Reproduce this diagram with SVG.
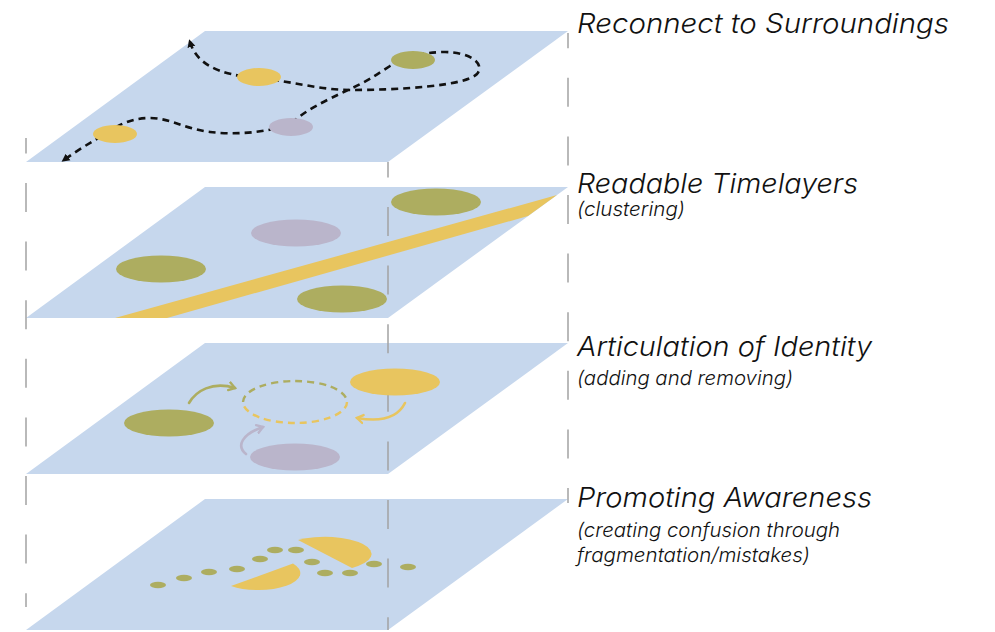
<svg xmlns="http://www.w3.org/2000/svg" width="995" height="632" viewBox="0 0 995 632">
<style>
.plane{fill:#c6d7ed}
.vl{stroke:#a3a3a3;stroke-width:1.5;stroke-dasharray:29 29.6;fill:none}
.y{fill:#e8c55f}.o{fill:#adad60}.l{fill:#bab5cb}
.route{fill:none;stroke:#111;stroke-width:2.6;stroke-dasharray:7 5}
.arr{fill:none;stroke-width:2.6;stroke-linecap:round}
.t{font-family:Inter,"Liberation Sans",sans-serif;font-style:italic;font-weight:300;fill:#111}
.h{font-size:27px}.s{font-size:20px}
</style>
<defs>
<marker id="tri" markerUnits="userSpaceOnUse" markerWidth="10" markerHeight="10" refX="5" refY="4" orient="auto-start-reverse" viewBox="0 0 10 8"><path d="M0,0 L8,4 L0,8 z" fill="#111"/></marker>
<marker id="ho" markerUnits="userSpaceOnUse" markerWidth="12" markerHeight="12" refX="7" refY="5" orient="auto" viewBox="0 0 12 10"><path d="M1,1 L7,5 L1,9" fill="none" stroke="#adad60" stroke-width="2.4" stroke-linecap="round"/></marker>
<marker id="hy" markerUnits="userSpaceOnUse" markerWidth="12" markerHeight="12" refX="7" refY="5" orient="auto" viewBox="0 0 12 10"><path d="M1,1 L7,5 L1,9" fill="none" stroke="#e8c55f" stroke-width="2.4" stroke-linecap="round"/></marker>
<marker id="hl" markerUnits="userSpaceOnUse" markerWidth="12" markerHeight="12" refX="7" refY="5" orient="auto" viewBox="0 0 12 10"><path d="M1,1 L7,5 L1,9" fill="none" stroke="#bab5cb" stroke-width="2.4" stroke-linecap="round"/></marker>
</defs>

<g id="planes">
<polygon class="plane" points="205,31 568,31 388,162 26,162"/>
<polygon class="plane" points="205,187 568,187 388,318 26,318"/>
<polygon class="plane" points="205,343 568,343 388,474 26,474"/>
<polygon class="plane" points="205,499 568,499 388,630 26,630"/>
</g>

<g id="guides">
<line class="vl" x1="26" y1="138" x2="26" y2="607" stroke-dashoffset="13.6"/>
<line class="vl" x1="388" y1="162" x2="388" y2="630" stroke-dashoffset="13.6"/>
<line class="vl" x1="568" y1="33" x2="568" y2="503" stroke-dashoffset="13.8"/>
</g>

<g id="connectors">
<path class="route" marker-start="url(#tri)" marker-end="url(#tri)" d="M 190,42 C 196,62 215,75 259,78 C 290,81 320,90 350,90 C 400,90 465,86 477,74 C 486,63 468,52 445,52 C 420,52 400,60 390,66 C 375,76 362,84 348,90 C 325,101 305,110 291,124 C 265,133 235,135 210,132 C 185,129 170,118 150,118 C 125,118 112,130 100,137 C 88,144 75,152 64,160"/>
<path class="arr" stroke="#adad60" marker-end="url(#ho)" d="M 189,403 C 196,391 212,381 235,388"/>
<path class="arr" stroke="#e8c55f" marker-end="url(#hy)" d="M 405,403 C 399,415 385,423 357,418"/>
<path class="arr" stroke="#bab5cb" marker-end="url(#hl)" d="M 246,454 C 236,446 242,434 263,427"/>
</g>

<g id="layer-surroundings">
<ellipse class="y" cx="259" cy="77" rx="22" ry="9"/>
<ellipse class="o" cx="413" cy="60" rx="22" ry="9"/>
<ellipse class="y" cx="115" cy="134" rx="22" ry="9"/>
<ellipse class="l" cx="291" cy="127" rx="22" ry="9"/>
<text class="t h" x="577" y="33" textLength="372" lengthAdjust="spacingAndGlyphs">Reconnect to Surroundings</text>
</g>

<g id="layer-timelayers">
<polygon class="y" points="115,318 167,318 528,216 557,195"/>
<ellipse class="o" cx="436" cy="202" rx="45" ry="13.5"/>
<ellipse class="l" cx="296" cy="233" rx="45" ry="13.5"/>
<ellipse class="o" cx="161" cy="269" rx="45" ry="13.5"/>
<ellipse class="o" cx="342" cy="299" rx="45" ry="13.5"/>
<text class="t h" x="577" y="193" textLength="281" lengthAdjust="spacingAndGlyphs">Readable Timelayers</text>
<text class="t s" x="577" y="216" textLength="108" lengthAdjust="spacingAndGlyphs">(clustering)</text>
</g>

<g id="layer-identity">
<ellipse class="y" cx="395" cy="382" rx="45" ry="13.5"/>
<ellipse class="o" cx="169" cy="423" rx="45" ry="13.5"/>
<ellipse class="l" cx="295" cy="457" rx="45" ry="13.5"/>
<path d="M 243,402 A 52 21 0 0 1 347,402" fill="none" stroke="#adad60" stroke-width="2.4" stroke-dasharray="7 5"/>
<path d="M 347,402 A 52 21 0 0 1 243,402" fill="none" stroke="#e8c55f" stroke-width="2.4" stroke-dasharray="7 5"/>
<text class="t h" x="577" y="356" textLength="295" lengthAdjust="spacingAndGlyphs">Articulation of Identity</text>
<text class="t s" x="577" y="385" textLength="216" lengthAdjust="spacingAndGlyphs">(adding and removing)</text>
</g>

<g id="layer-awareness">
<path class="y" d="M 352,568 L 298,540 A 46 17 0 0 1 352,568 Z"/>
<path class="y" d="M 231,586 L 293,563.5 A 42 17 0 0 1 231,586 Z"/>
<g class="o">
<ellipse cx="158" cy="585" rx="8" ry="3.3"/>
<ellipse cx="184" cy="578" rx="8" ry="3.3"/>
<ellipse cx="209" cy="572" rx="8" ry="3.3"/>
<ellipse cx="237" cy="569" rx="8" ry="3.3"/>
<ellipse cx="260" cy="559" rx="8" ry="3.3"/>
<ellipse cx="275" cy="550" rx="8" ry="3.3"/>
<ellipse cx="296" cy="550" rx="8" ry="3.3"/>
<ellipse cx="312" cy="562" rx="8" ry="3.3"/>
<ellipse cx="325" cy="573" rx="8" ry="3.3"/>
<ellipse cx="350" cy="573" rx="8" ry="3.3"/>
<ellipse cx="374" cy="564" rx="8" ry="3.3"/>
<ellipse cx="408" cy="567" rx="8" ry="3.3"/>
</g>
<text class="t h" x="577" y="507" textLength="295" lengthAdjust="spacingAndGlyphs">Promoting Awareness</text>
<text class="t s" x="577" y="537" textLength="263" lengthAdjust="spacingAndGlyphs">(creating confusion through</text>
<text class="t s" x="577" y="562" textLength="233" lengthAdjust="spacingAndGlyphs">fragmentation/mistakes)</text>
</g>
</svg>
